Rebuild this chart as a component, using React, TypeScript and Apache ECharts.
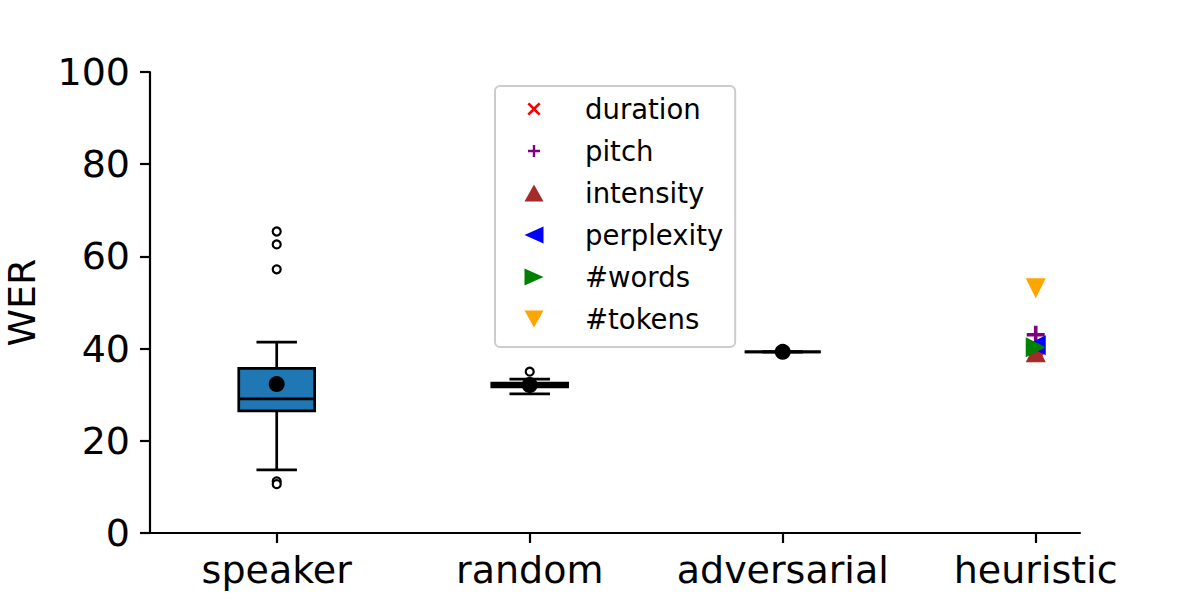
import { useEffect, useRef } from "react";
import * as echarts from "echarts";

// ---- data ----
const categories = ["speaker", "random", "adversarial", "heuristic"];
const boxLow = [13.7, 30.2, 39.3];
const boxQ1 = [26.5, 31.7, 39.3];
const boxMedian = [29.1, 32.1, 39.3];
const boxQ3 = [35.7, 32.5, 39.3];
const boxHigh = [41.4, 33.4, 39.3];
const meanValues = [32.3, 32.1, 39.3];
const outlierCategory = [0, 0, 0, 0, 0, 1];
const outlierValues = [65.4, 62.6, 57.2, 11.2, 10.6, 35.0];
const heuristicFeatures = ["duration", "pitch", "intensity", "perplexity", "#words", "#tokens"];
const heuristicValues = [40.0, 43.0, 39.2, 40.7, 40.3, 53.1];
const heuristicIndex = 3;
const yTicks = [0, 20, 40, 60, 80, 100];

// ---- styles ----
const FONT = "DejaVu Sans";
const featureColors = ["#ff0000", "#800080", "#a52a2a", "#0000ff", "#008000", "#ffa500"];
const CROSS = "M5,-7L7,-5L2,0L7,5L5,7L0,2L-5,7L-7,5L-2,0L-7,-5L-5,-7L0,-2Z";
const PLUS = "M-1.2,-6H1.2V-1.2H6V1.2H1.2V6H-1.2V1.2H-6V-1.2H-1.2Z";
const TRI_UP = "M0,-1L1,1L-1,1Z";
const TRI_LEFT = "M-1,0L1,-1L1,1Z";
const TRI_RIGHT = "M1,0L-1,-1L-1,1Z";
const TRI_DOWN = "M-1,-1L1,-1L0,1Z";
const plotSymbols = [CROSS, PLUS, TRI_UP, TRI_LEFT, TRI_RIGHT, TRI_DOWN].map((p) => "path://" + p);
const plotSizes = [16, 18, 20, 20, 20, 20];
const legendIcons = [
  "path://M-10,-9M10,9" + CROSS,
  "path://M-9.5,-8.5M9.5,8.5" + PLUS,
  "path://M0,-8.5L9.5,8.5L-9.5,8.5Z",
  "path://M-9.5,0L9.5,-8.5L9.5,8.5Z",
  "path://M9.5,0L-9.5,-8.5L-9.5,8.5Z",
  "path://M-9.5,-8.5L9.5,-8.5L0,8.5Z",
];

export default function App() {
  const ref = useRef<HTMLDivElement>(null);

  useEffect(() => {
    document.body.style.margin = "0";
    if (!ref.current) return;
    const chart = echarts.init(ref.current, null, { renderer: "svg" });

    const boxData = boxLow.map((_, i) => [i, boxLow[i], boxQ1[i], boxMedian[i], boxQ3[i], boxHigh[i]]);

    const renderBox = (params: any, api: any) => {
      const x = api.value(0);
      const lo = api.coord([x, api.value(1)]);
      const q1 = api.coord([x, api.value(2)]);
      const med = api.coord([x, api.value(3)]);
      const q3 = api.coord([x, api.value(4)]);
      const hi = api.coord([x, api.value(5)]);
      const unit = api.size([1, 0])[0];
      const hw = unit * 0.15;
      const cw = unit * 0.08;
      const cx = lo[0];
      const ls = { stroke: "#000", lineWidth: 2.7 };
      return {
        type: "group",
        children: [
          { type: "line", shape: { x1: cx, y1: q1[1], x2: cx, y2: lo[1] }, style: ls },
          { type: "line", shape: { x1: cx, y1: q3[1], x2: cx, y2: hi[1] }, style: ls },
          { type: "line", shape: { x1: cx - cw, y1: lo[1], x2: cx + cw, y2: lo[1] }, style: ls },
          { type: "line", shape: { x1: cx - cw, y1: hi[1], x2: cx + cw, y2: hi[1] }, style: ls },
          {
            type: "rect",
            shape: { x: cx - hw, y: q3[1], width: hw * 2, height: q1[1] - q3[1] },
            style: { fill: "#1f77b4", stroke: "#000", lineWidth: 2.7 },
          },
          { type: "line", shape: { x1: cx - hw, y1: med[1], x2: cx + hw, y2: med[1] }, style: ls },
        ],
      };
    };

    const heuristicSeries = heuristicFeatures.map((name, i) => ({
      type: "scatter",
      name,
      data: [[heuristicIndex, heuristicValues[i]]],
      symbol: plotSymbols[i],
      symbolSize: plotSizes[i],
      itemStyle: { color: featureColors[i], opacity: 1 },
      z: 5 + i,
    }));

    chart.setOption({
      animation: false,
      backgroundColor: "#ffffff",
      grid: { left: 150, right: 120, top: 72, bottom: 67, containLabel: false, outerBoundsMode: "none" },
      xAxis: {
        type: "value",
        min: -0.5008,
        max: 3.175,
        splitLine: { show: false },
        axisLine: { show: true, onZero: false, lineStyle: { color: "#000", width: 2.2 } },
        axisTick: { show: true, customValues: [0, 1, 2, 3], length: 10, lineStyle: { color: "#000", width: 2.2 } },
        axisLabel: {
          customValues: [0, 1, 2, 3],
          formatter: (v: number) => categories[Math.round(v)] ?? "",
          fontSize: 38,
          fontFamily: FONT,
          color: "#000",
          margin: 18,
        },
      },
      yAxis: {
        type: "value",
        min: 0,
        max: 100,
        interval: 20,
        name: "WER",
        nameLocation: "middle",
        nameGap: 109,
        nameRotate: 90,
        nameTextStyle: { fontSize: 38, fontFamily: FONT, color: "#000" },
        splitLine: { show: false },
        axisLine: { show: true, onZero: false, lineStyle: { color: "#000", width: 2.2 } },
        axisTick: { show: true, length: 10, lineStyle: { color: "#000", width: 2.2 } },
        axisLabel: {
          fontSize: 38,
          fontFamily: FONT,
          color: "#000",
          margin: 20,
          formatter: (v: number) => (yTicks.includes(v) ? String(v) : ""),
        },
      },
      legend: {
        orient: "vertical",
        left: 495,
        top: 86,
        padding: [9, 12, 14, 29.5],
        itemGap: 14,
        itemWidth: 19,
        itemHeight: 17,
        selectedMode: false,
        borderColor: "#cccccc",
        borderWidth: 2,
        borderRadius: 5,
        backgroundColor: "rgba(255,255,255,0.8)",
        textStyle: { fontSize: 27.5, fontFamily: FONT, color: "#000", lineHeight: 28, padding: [0, 0, 0, 36.5] },
        data: heuristicFeatures.map((name, i) => ({ name, icon: legendIcons[i] })),
      },
      series: [
        {
          type: "custom",
          name: "box",
          renderItem: renderBox,
          data: boxData,
          encode: { x: 0, y: [1, 2, 3, 4, 5] },
          z: 2,
        },
        {
          type: "scatter",
          name: "outliers",
          data: outlierValues.map((v, i) => [outlierCategory[i], v]),
          symbol: "circle",
          symbolSize: 8,
          itemStyle: { color: "#ffffff", borderColor: "#000", borderWidth: 2.2, opacity: 1 },
          z: 3,
        },
        {
          type: "scatter",
          name: "mean",
          data: meanValues.map((v, i) => [i, v]),
          symbol: "circle",
          symbolSize: 16,
          itemStyle: { color: "#000", opacity: 1 },
          z: 4,
        },
        ...heuristicSeries,
      ],
    });

    return () => chart.dispose();
  }, []);

  return (
    <div
      ref={ref}
      style={{ width: 1200, height: 600, position: "absolute", left: 0, top: 0 }}
    />
  );
}
